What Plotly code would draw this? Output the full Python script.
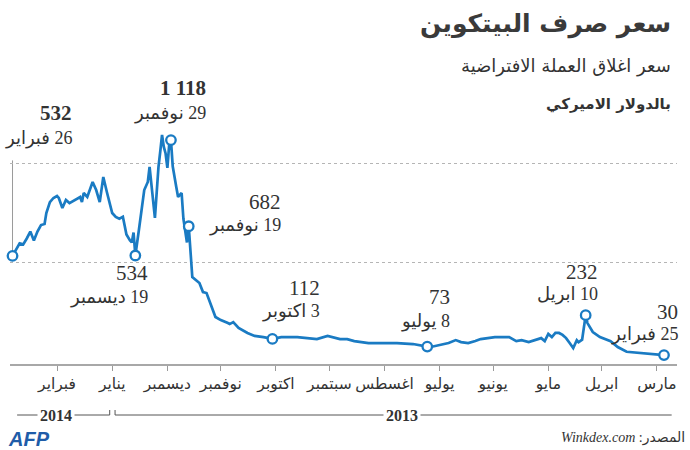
import plotly.graph_objects as go
import pandas as pd

# ---------------- data ----------------
dates = [
    "2013-02-25", "2013-03-01", "2013-03-10", "2013-03-18", "2013-03-23", "2013-03-27",
    "2013-04-02", "2013-04-06", "2013-04-09", "2013-04-10", "2013-04-12", "2013-04-14",
    "2013-04-15", "2013-04-17", "2013-04-19", "2013-04-21", "2013-04-23", "2013-04-25",
    "2013-04-27", "2013-04-29", "2013-05-01", "2013-05-03", "2013-05-05", "2013-05-08",
    "2013-05-12", "2013-05-16", "2013-05-19", "2013-05-23", "2013-05-27", "2013-05-31",
    "2013-06-04", "2013-06-08", "2013-06-11", "2013-06-15", "2013-06-19", "2013-06-22",
    "2013-06-26", "2013-07-02", "2013-07-06", "2013-07-08", "2013-07-16", "2013-07-25",
    "2013-08-03", "2013-08-10", "2013-08-18", "2013-08-22", "2013-08-26", "2013-08-30",
    "2013-09-02", "2013-09-08", "2013-09-13", "2013-09-19", "2013-09-28", "2013-10-03",
    "2013-10-08", "2013-10-13", "2013-10-17", "2013-10-22", "2013-10-25", "2013-10-27",
    "2013-10-28", "2013-11-01", "2013-11-04", "2013-11-07", "2013-11-09", "2013-11-11",
    "2013-11-13", "2013-11-17", "2013-11-18", "2013-11-19", "2013-11-20", "2013-11-22",
    "2013-11-23", "2013-11-25", "2013-11-26", "2013-11-28", "2013-11-29", "2013-11-30",
    "2013-12-01", "2013-12-02", "2013-12-03", "2013-12-04", "2013-12-05", "2013-12-06",
    "2013-12-08", "2013-12-10", "2013-12-11", "2013-12-12", "2013-12-14", "2013-12-17",
    "2013-12-18", "2013-12-19", "2013-12-20", "2013-12-21", "2013-12-22", "2013-12-24",
    "2013-12-26", "2013-12-28", "2013-12-30", "2014-01-01", "2014-01-04", "2014-01-06",
    "2014-01-08", "2014-01-10", "2014-01-12", "2014-01-15", "2014-01-17", "2014-01-18",
    "2014-01-19", "2014-01-22", "2014-01-25", "2014-01-27", "2014-01-29", "2014-01-31",
    "2014-02-01", "2014-02-03", "2014-02-05", "2014-02-07", "2014-02-08", "2014-02-10",
    "2014-02-12", "2014-02-14", "2014-02-16", "2014-02-18", "2014-02-20", "2014-02-22",
    "2014-02-26",
]
values = [
    30, 33, 42, 47, 71, 100,
    121, 147, 192, 232, 108, 95,
    105, 66, 91, 116, 132, 142,
    142, 121, 137, 101, 116, 106,
    96, 106, 101, 121, 121, 121,
    116, 111, 101, 91, 96, 106,
    91, 81, 71, 73, 86, 91,
    91, 91, 101, 111, 111, 121,
    127, 111, 116, 121, 121, 112,
    121, 127, 142, 167, 197, 187,
    192, 207, 223, 293, 344, 349,
    395, 425, 540, 682, 600, 720,
    850, 830, 880, 985, 1118, 1093,
    977, 1050, 1083, 1144, 1060, 982,
    724, 901, 982, 906, 865, 663,
    600, 534, 650, 600, 610, 640,
    730, 720, 729, 749, 855, 931,
    804, 865, 906, 830, 850, 804,
    830, 815, 799, 815, 774, 825,
    835, 825, 804, 749, 693, 688,
    655, 610, 655, 620, 590, 595,
    532,
]

key_dates = ["2013-02-25", "2013-04-10", "2013-07-08", "2013-10-03",
             "2013-11-19", "2013-11-29", "2013-12-19", "2014-02-26"]
key_values = [30, 232, 73, 112, 682, 1118, 534, 532]
key_value_labels = ["30", "232", "73", "112", "682", "1 118", "534", "532"]
key_day_labels = ["25 فبراير", "10 ابريل", "8 يوليو", "3 اكتوبر",
                  "19 نوفمبر", "29 نوفمبر", "19 ديسمبر", "26 فبراير"]
key_bold = [False, False, False, False, False, True, False, True]

month_ticks = ["2013-03-01", "2013-04-01", "2013-05-01", "2013-06-01", "2013-07-01",
               "2013-08-01", "2013-09-01", "2013-10-01", "2013-11-01", "2013-12-01",
               "2014-01-01", "2014-02-01"]
month_names = ["مارس", "ابريل", "مايو", "يونيو", "يوليو", "اغسطس", "سبتمبر",
               "اكتوبر", "نوفمبر", "ديسمبر", "يناير", "فبراير"]

title_text = "سعر صرف البيتكوين"
subtitle_text = "سعر اغلاق العملة الافتراضية"
unit_text = "بالدولار الاميركي"
source_text = "<i>Winkdex.com</i> :المصدر"
years = ["2014", "2013"]
year_boundary = "2014-01-01"

# ---------------- layout geometry ----------------
W, H = 690, 450
ML, MR, MT, MB = 10, 13, 110, 86
PW, PH = W - ML - MR, H - MT - MB

base = pd.Timestamp("2013-02-25")
px_per_day = 1.78
x_at_base = 664
x_left = base + pd.Timedelta(days=(x_at_base - ML) / px_per_day)
x_right = base - pd.Timedelta(days=((W - MR) - x_at_base) / px_per_day)

def px(xp):
    return (xp - ML) / PW

def py(yp):
    return (H - MB - yp) / PH

BLUE = "#1a7bc3"
TXT = "#333333"
SERIF = "Liberation Serif, DejaVu Sans, serif"
ARAB = "DejaVu Sans, sans-serif"
RLM = "\u200f"

fig = go.Figure()
fig.add_trace(go.Scatter(
    x=dates, y=values, mode="lines",
    line=dict(color=BLUE, width=2.7, shape="linear"),
    hoverinfo="skip", showlegend=False,
))
fig.add_trace(go.Scatter(
    x=key_dates, y=key_values, mode="markers",
    marker=dict(size=9.5, color="white", line=dict(color=BLUE, width=2.3)),
    cliponaxis=False, hoverinfo="skip", showlegend=False,
))

shapes = []
# leader line from 26 Feb point up to its label
shapes.append(dict(type="line", xref="x", yref="y", x0=key_dates[-1], x1=key_dates[-1],
                   y0=key_values[-1], y1=1015, line=dict(color="#9a9a9a", width=1), layer="below"))

# year band
band_y = py(415)
tick_top = py(410)
b = pd.Timestamp(year_boundary)
end14 = b + pd.Timedelta(days=1.4)
start13 = b - pd.Timedelta(days=1.6)
shapes.append(dict(type="line", xref="x", yref="paper", x0=x_left + pd.Timedelta(days=-4), x1=end14,
                   y0=band_y, y1=band_y, line=dict(color="#555", width=1)))
shapes.append(dict(type="line", xref="x", yref="paper", x0=start13, x1=x_right + pd.Timedelta(days=3),
                   y0=band_y, y1=band_y, line=dict(color="#555", width=1)))
for d in (end14, start13):
    shapes.append(dict(type="line", xref="x", yref="paper", x0=d, x1=d,
                       y0=band_y, y1=tick_top, line=dict(color="#555", width=1)))

ann = []
# title block
ann.append(dict(text="<b>" + title_text + "</b>", x=px(673), y=py(24), xref="paper", yref="paper",
                xanchor="right", yanchor="middle", showarrow=False,
                font=dict(family=ARAB, size=25, color="#3a3a3a")))
ann.append(dict(text=subtitle_text, x=px(673), y=py(66), xref="paper", yref="paper",
                xanchor="right", yanchor="middle", showarrow=False,
                font=dict(family=ARAB, size=18, color=TXT)))
ann.append(dict(text="<b>" + unit_text + "</b>", x=px(673), y=py(104), xref="paper", yref="paper",
                xanchor="right", yanchor="middle", showarrow=False,
                font=dict(family=ARAB, size=15, color=TXT)))

# point labels: (right edge px, number centre y px, date centre y px)
label_pos = [(680, 312, 334), (600, 272, 294), (452, 297, 321), (322, 288, 311),
             (283, 202, 225), (208, 88, 113), (150, 273, 297), (74, 113, 138)]
for (rx, ny, dy), vl, dl, bold in zip(label_pos, key_value_labels, key_day_labels, key_bold):
    t = "<b>" + vl + "</b>" if bold else vl
    ann.append(dict(text=t, x=px(rx), y=py(ny), xref="paper", yref="paper",
                    xanchor="right", yanchor="middle", showarrow=False,
                    font=dict(family=SERIF, size=21, color=TXT)))
    ann.append(dict(text=RLM + dl, x=px(rx), y=py(dy), xref="paper", yref="paper",
                    xanchor="right", yanchor="middle", showarrow=False,
                    font=dict(family=SERIF, size=18, color=TXT)))

# year labels
ann.append(dict(text="<b>" + years[0] + "</b>", x=px(56), y=band_y, xref="paper", yref="paper",
                xanchor="center", yanchor="middle", showarrow=False, bgcolor="white", borderpad=2,
                font=dict(family=SERIF, size=16, color=TXT)))
ann.append(dict(text="<b>" + years[1] + "</b>", x=px(402), y=band_y, xref="paper", yref="paper",
                xanchor="center", yanchor="middle", showarrow=False, bgcolor="white", borderpad=2,
                font=dict(family=SERIF, size=16, color=TXT)))

# footer
ann.append(dict(text="<b><i>AFP</i></b>", x=px(6), y=py(439), xref="paper", yref="paper",
                xanchor="left", yanchor="middle", showarrow=False,
                font=dict(family="Liberation Sans, Arial, sans-serif", size=20, color="#1f5ca8")))
ann.append(dict(text=source_text, x=px(687), y=py(438), xref="paper", yref="paper",
                xanchor="right", yanchor="middle", showarrow=False,
                font=dict(family="Liberation Serif, DejaVu Sans, serif", size=14, color=TXT)))

fig.update_layout(
    width=W, height=H,
    margin=dict(l=ML, r=MR, t=MT, b=MB, pad=0),
    paper_bgcolor="white", plot_bgcolor="white",
    shapes=shapes, annotations=ann,
    xaxis=dict(
        type="date", range=[x_left, x_right],
        tickmode="array", tickvals=month_ticks, ticktext=month_names,
        ticks="outside", ticklen=5, tickwidth=1, tickcolor="#9a9a9a",
        showline=True, linecolor="#a8a8a8", linewidth=1.5,
        showgrid=False, zeroline=False,
        tickfont=dict(family=ARAB, size=15.5, color=TXT),
        ticklabelstandoff=0,
    ),
    yaxis=dict(
        range=[-15, 1270], tickmode="array", tickvals=[500, 1000],
        showticklabels=False, showgrid=True, gridcolor="#b5b5b5", gridwidth=1,
        griddash="dot", zeroline=False, showline=False, ticks="",
    ),
)

fig.write_html("out.html")
